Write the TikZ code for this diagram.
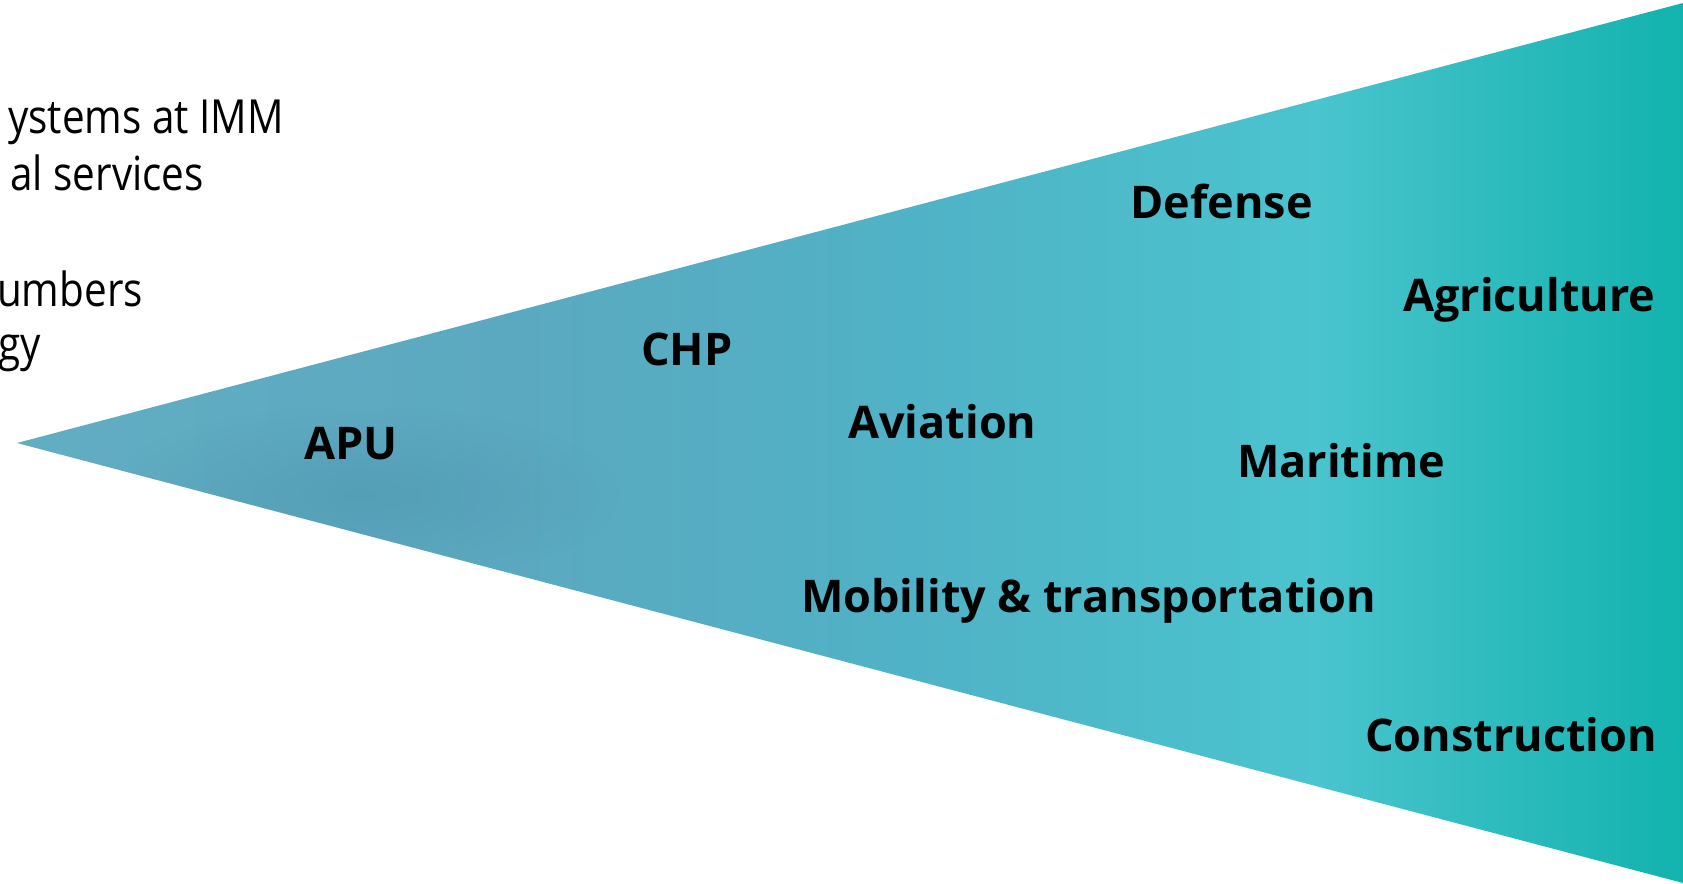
\documentclass[tikz,border=0pt]{standalone}
\usepackage{fontspec}
\setmainfont{Open Sans}
\usetikzlibrary{fadings}

\definecolor{fanA}{HTML}{62ADC2}
\definecolor{fanB}{HTML}{5BA9C0}
\definecolor{fanC}{HTML}{50B2C6}
\definecolor{fanD}{HTML}{4AC4CE}
\definecolor{fanE}{HTML}{12B3AE}
\definecolor{fanspot}{HTML}{4A90AA}

\pgfdeclarehorizontalshading{fan}{100bp}{color(0bp)=(fanA); color(25bp)=(fanA);
  color(40bp)=(fanB); color(52bp)=(fanC); color(64bp)=(fanD);
  color(75bp)=(fanE); color(100bp)=(fanE)}
\tikzfading[name=spotfade, inner color=transparent!0, outer color=transparent!100]

\newcommand{\narrow}[1]{\scalebox{0.86}[1]{#1}}

\begin{document}
\begin{tikzpicture}[x=1pt, y=-1pt,
  sector/.style={anchor=base west, inner sep=0pt, font=\fontsize{45}{54}\selectfont\bfseries},
  note/.style={anchor=base east, inner sep=0pt, font=\fontsize{47}{56}\selectfont}]
\useasboundingbox (0,0) rectangle (1683,883);
\clip (0,0) rectangle (1683,883);
% the fan
\coordinate (tip) at (17,443);
\coordinate (top) at (1683,3);
\coordinate (bot) at (1683,883);
\shade[shading=fan] (tip) -- (top) -- (bot) -- cycle;
\begin{scope}
\clip (tip) -- (top) -- (bot) -- cycle;
\fill[fanspot, fill opacity=0.45, path fading=spotfade] (360,495) ellipse (260 and 90);
\end{scope}
% text on the left
\node[note] (l1) at (284,133) {\narrow{ystems at IMM}};
\node[note] (l2) at (204,190) {\narrow{al services}};
\node[note] (l3) at (143,306) {\narrow{umbers}};
\node[note] (l4) at (41,360) {\narrow{gy}};
% fields of use
\node[sector] (apu) at (304,459) {APU};
\node[sector] (chp) at (641,365) {CHP};
\node[sector] (aviation) at (848,438) {Aviation};
\node[sector] (defense) at (1130,218) {Defense};
\node[sector] (agriculture) at (1403,311) {Agriculture};
\node[sector] (maritime) at (1237,477) {Maritime};
\node[sector] (mobility) at (801,612) {Mobility \& transportation};
\node[sector] (construction) at (1365,751) {Construction};
\end{tikzpicture}
\end{document}
